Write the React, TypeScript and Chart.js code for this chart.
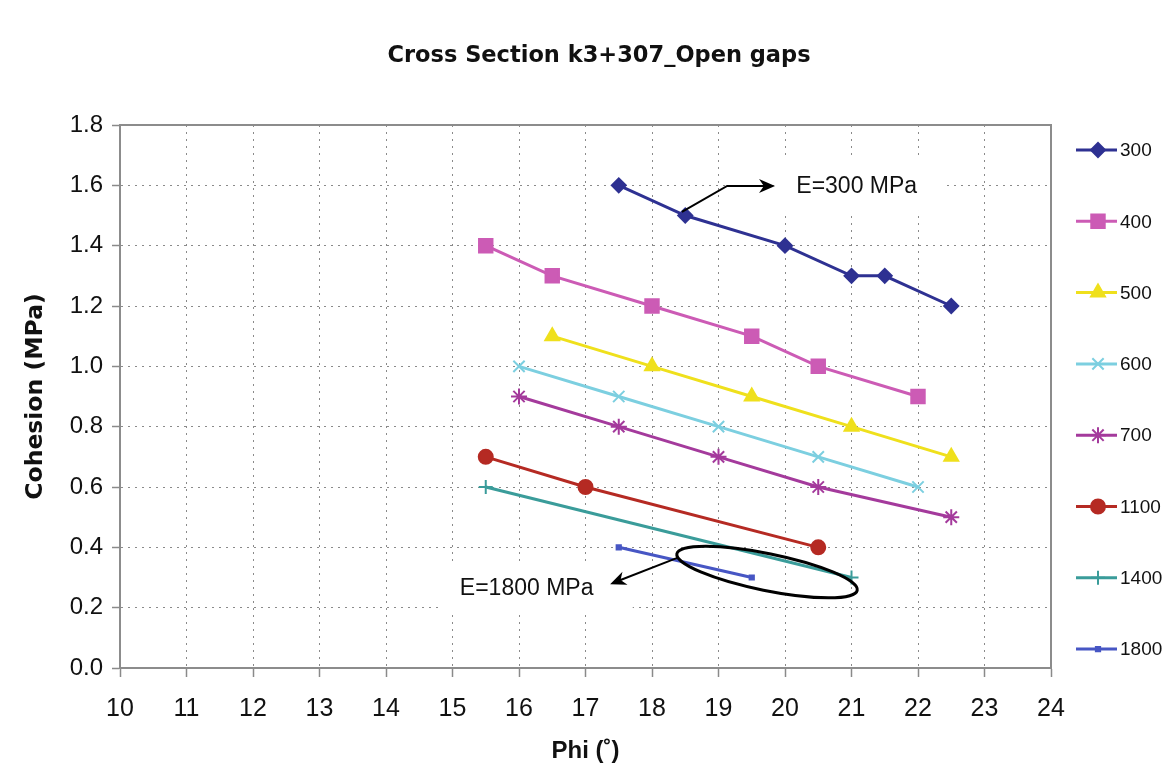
import React, { useEffect, useRef } from 'react';
import { Chart, registerables } from 'chart.js';
import { drawPoint } from 'chart.js/helpers';

Chart.register(...registerables);

// ---- Data ----
const seriesNames = ['300', '400', '500', '600', '700', '1100', '1400', '1800'];

const phi300 = [17.5, 18.5, 20, 21, 21.5, 22.5];
const coh300 = [1.6, 1.5, 1.4, 1.3, 1.3, 1.2];

const phi400 = [15.5, 16.5, 18, 19.5, 20.5, 22];
const coh400 = [1.4, 1.3, 1.2, 1.1, 1.0, 0.9];

const phi500 = [16.5, 18, 19.5, 21, 22.5];
const coh500 = [1.1, 1.0, 0.9, 0.8, 0.7];

const phi600 = [16, 17.5, 19, 20.5, 22];
const coh600 = [1.0, 0.9, 0.8, 0.7, 0.6];

const phi700 = [16, 17.5, 19, 20.5, 22.5];
const coh700 = [0.9, 0.8, 0.7, 0.6, 0.5];

const phi1100 = [15.5, 17, 20.5];
const coh1100 = [0.7, 0.6, 0.4];

const phi1400 = [15.5, 21];
const coh1400 = [0.6, 0.3];

const phi1800 = [17.5, 19.5];
const coh1800 = [0.4, 0.3];

const phiSets = [phi300, phi400, phi500, phi600, phi700, phi1100, phi1400, phi1800];
const cohSets = [coh300, coh400, coh500, coh600, coh700, coh1100, coh1400, coh1800];

const xTickMin = 10;
const xTickMax = 24;
const yTickMin = 0;
const yTickMax = 1.8;

const titleText = 'Cross Section k3+307_Open gaps';
const xTitle = 'Phi (˚)';
const yTitle = 'Cohesion (MPa)';
const note300 = 'E=300 MPa';
const note1800 = 'E=1800 MPa';

// ---- Styles ----
const colors = ['#2e3192', '#cc5bb5', '#efe01c', '#7ccfe0', '#a43a9c', '#b52a23', '#3a9c9a', '#4756c4'];
const pointStyles = ['rectRot', 'rect', 'triangle', 'crossRot', 'star', 'circle', 'cross', 'rect'];
const pointRadii = [7, 9.5, 8, 8, 8, 7, 7, 3];

const annotationPlugin = {
  id: 'annotations',
  beforeDatasetsDraw(chart: any) {
    const { ctx, chartArea } = chart;
    ctx.save();
    ctx.strokeStyle = '#8c8c8c';
    ctx.lineWidth = 2;
    ctx.strokeRect(chartArea.left, chartArea.top, chartArea.right - chartArea.left, chartArea.bottom - chartArea.top);
    ctx.restore();
  },
  afterDatasetsDraw(chart: any) {
    const { ctx } = chart;
    const xs = chart.scales.x;
    const ys = chart.scales.y;
    const px = (v: number) => xs.getPixelForValue(v);
    const py = (v: number) => ys.getPixelForValue(v);
    ctx.save();

    // title
    ctx.fillStyle = '#111';
    ctx.font = 'bold 22.5px "DejaVu Sans", Verdana, sans-serif';
    ctx.textAlign = 'center';
    ctx.textBaseline = 'middle';
    ctx.fillText(titleText, 599, 56);

    // E=300 box
    ctx.fillStyle = '#ffffff';
    ctx.fillRect(px(19.88), py(1.687), px(22.42) - px(19.88), py(1.515) - py(1.687));
    ctx.fillStyle = '#111';
    ctx.font = '23px "Liberation Sans", Arial, sans-serif';
    ctx.textAlign = 'left';
    ctx.fillText(note300, px(20.17), py(1.594));

    // E=1800 box
    ctx.fillStyle = '#ffffff';
    ctx.fillRect(px(14.81), py(0.342), px(17.71) - px(14.81), py(0.192) - py(0.342));
    ctx.fillStyle = '#111';
    ctx.fillText(note1800, px(15.11), py(0.262));

    const arrowHead = (x1: number, y1: number, x2: number, y2: number) => {
      const a = Math.atan2(y2 - y1, x2 - x1);
      const L = 16, W = 7;
      ctx.beginPath();
      ctx.moveTo(x2, y2);
      ctx.lineTo(x2 - L * Math.cos(a) + W * Math.sin(a), y2 - L * Math.sin(a) - W * Math.cos(a));
      ctx.lineTo(x2 - L * 0.7 * Math.cos(a), y2 - L * 0.7 * Math.sin(a));
      ctx.lineTo(x2 - L * Math.cos(a) - W * Math.sin(a), y2 - L * Math.sin(a) + W * Math.cos(a));
      ctx.closePath();
      ctx.fill();
    };

    ctx.strokeStyle = '#000';
    ctx.fillStyle = '#000';
    ctx.lineWidth = 2;
    // arrow to E=300
    ctx.beginPath();
    ctx.moveTo(px(18.45), py(1.512));
    ctx.lineTo(px(19.13), py(1.598));
    ctx.lineTo(px(19.8), py(1.598));
    ctx.stroke();
    arrowHead(px(19.13), py(1.598), px(19.85), py(1.598));

    // arrow to E=1800
    ctx.beginPath();
    ctx.moveTo(px(18.38), py(0.365));
    ctx.lineTo(px(17.45), py(0.285));
    ctx.stroke();
    arrowHead(px(18.38), py(0.365), px(17.37), py(0.278));

    // ellipse
    ctx.lineWidth = 3;
    ctx.beginPath();
    ctx.ellipse(px(19.73), py(0.318), 92, 18.5, 0.2, 0, Math.PI * 2);
    ctx.stroke();

    // legend
    const lx1 = 1076, lx2 = 1117, mx = 1098, tx = 1120;
    const y0 = 150, step = 71.3;
    ctx.font = '19px "Liberation Sans", Arial, sans-serif';
    ctx.textAlign = 'left';
    ctx.textBaseline = 'middle';
    seriesNames.forEach((name, i) => {
      const y = y0 + i * step;
      ctx.strokeStyle = colors[i];
      ctx.lineWidth = 3;
      ctx.beginPath();
      ctx.moveTo(lx1, y);
      ctx.lineTo(lx2, y);
      ctx.stroke();
      ctx.fillStyle = colors[i];
      ctx.strokeStyle = colors[i];
      ctx.lineWidth = 2;
      drawPoint(ctx, { pointStyle: pointStyles[i], radius: pointRadii[i], rotation: 0, borderWidth: 2 } as any, mx, y);
      ctx.fillStyle = '#111';
      ctx.fillText(name, tx, y + 1);
    });
    ctx.restore();
  },
};

export default function App() {
  const ref = useRef<HTMLCanvasElement | null>(null);
  useEffect(() => {
    if (!ref.current) return;
    const datasets = seriesNames.map((name, i) => ({
      label: name,
      data: phiSets[i].map((x, j) => ({ x, y: cohSets[i][j] })),
      showLine: true,
      borderColor: colors[i],
      backgroundColor: colors[i],
      borderWidth: 3,
      pointStyle: pointStyles[i],
      pointRadius: pointRadii[i],
      pointBorderWidth: 2,
      pointBorderColor: colors[i],
      pointBackgroundColor: colors[i],
      tension: 0,
    }));
    const chart = new Chart(ref.current, {
      type: 'scatter',
      data: { datasets },
      options: {
        responsive: false,
        animation: false,
        layout: { padding: { left: 0, top: 125, right: 121, bottom: 0 } },
        plugins: {
          legend: { display: false },
          title: { display: false },
          tooltip: { enabled: false },
        },
        scales: {
          x: {
            type: 'linear',
            min: xTickMin,
            max: xTickMax,
            afterFit: (s: any) => { s.height = 112; },
            ticks: {
              stepSize: 1,
              padding: 17,
              color: '#111',
              font: { size: 25, family: '"Liberation Sans", Arial, sans-serif' },
            },
            grid: {
              color: '#8a8a8a',
              lineWidth: 1,
              tickLength: 9,
              tickColor: '#8a8a8a',
              tickBorderDash: [],
              tickWidth: 1.5,
            },
            border: { display: true, color: '#8c8c8c', width: 2, dash: [2, 5] },
            title: {
              display: true,
              text: xTitle,
              color: '#111',
              font: { size: 24, weight: 'bold', family: '"Liberation Sans Narrow", "Arial Narrow", "Liberation Sans", sans-serif' },
              padding: { top: 0, bottom: 14 },
            },
          },
          y: {
            type: 'linear',
            min: yTickMin,
            max: yTickMax,
            afterFit: (s: any) => { s.width = 120; },
            ticks: {
              stepSize: 0.2,
              padding: 9,
              color: '#111',
              font: { size: 24, family: '"Liberation Sans", Arial, sans-serif' },
              callback: (v: any) => Number(v).toFixed(1),
            },
            grid: {
              color: '#8a8a8a',
              lineWidth: 1,
              tickLength: 8,
              tickColor: '#8a8a8a',
              tickBorderDash: [],
              tickWidth: 1.5,
            },
            border: { display: true, color: '#8c8c8c', width: 2, dash: [2, 5] },
            title: {
              display: true,
              text: yTitle,
              color: '#111',
              font: { size: 23.5, weight: 'bold', family: '"DejaVu Sans", Verdana, sans-serif' },
              padding: { top: 22, bottom: 0 },
            },
          },
        },
      },
      plugins: [annotationPlugin],
    } as any);
    return () => chart.destroy();
  }, []);
  return (
    <>
      <style>{`body{margin:0;background:#fff}`}</style>
      <div style={{ width: 1172, height: 780 }}>
        <canvas ref={ref} width={1172} height={780} style={{ width: 1172, height: 780, display: 'block' }} />
      </div>
    </>
  );
}
